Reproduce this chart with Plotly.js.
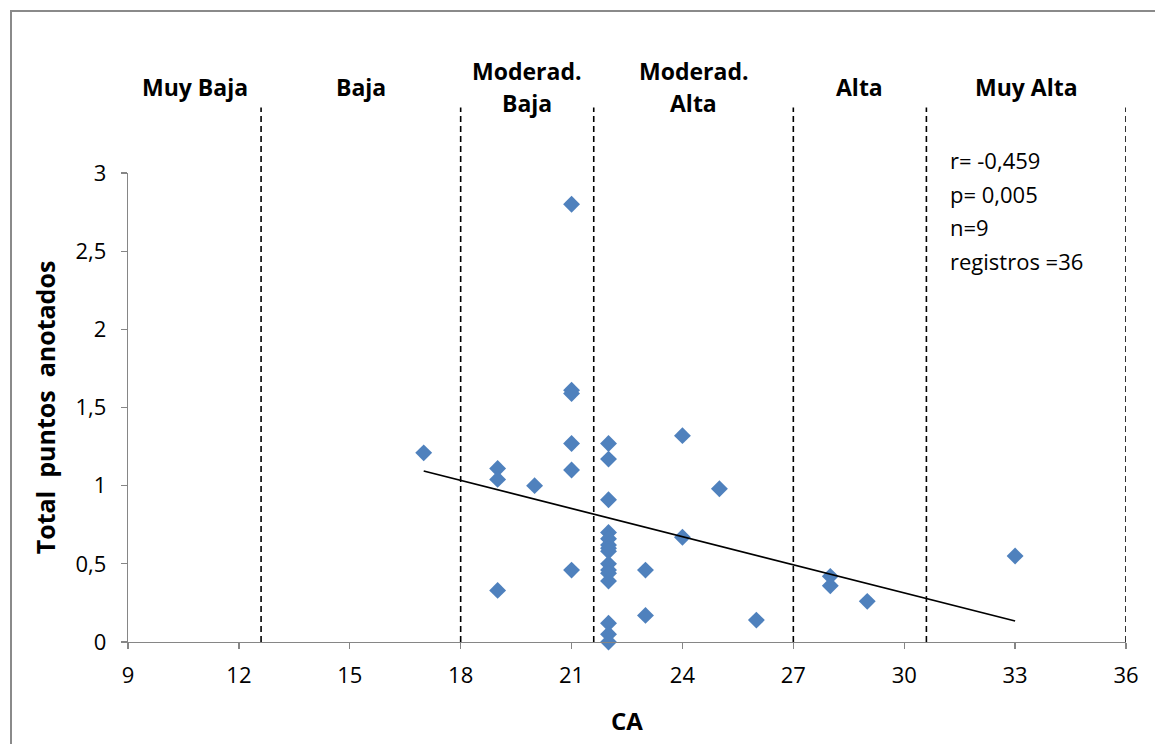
<!DOCTYPE html>
<html>
<head>
<meta charset="utf-8">
<script src="https://cdn.plot.ly/plotly-3.0.1.min.js"></script>
<style>
  html, body { margin: 0; padding: 0; background: #fff; overflow: hidden; }
  #chart { width: 1155px; height: 744px; }
  #frame { position: absolute; left: 10px; top: 10px; width: 1200px; height: 800px;
           border: 2px solid #8a8a8a; pointer-events: none; }
</style>
</head>
<body>
<div id="chart"></div>
<div id="frame"></div>
<script>
// ---- data ----
const caValues = [17, 19, 19, 19, 20,
  21, 21, 21, 21, 21, 21,
  22, 22, 22, 22, 22, 22, 22, 22, 22, 22, 22, 22, 22, 22, 22,
  23, 23, 24, 24, 25, 26, 28, 28, 29, 33];
const puntosValues = [1.21, 1.11, 1.04, 0.33, 1.00,
  2.80, 1.61, 1.59, 1.27, 1.10, 0.46,
  1.27, 1.17, 0.91, 0.70, 0.66, 0.62, 0.60, 0.58, 0.50, 0.46, 0.44, 0.39, 0.12, 0.05, 0.00,
  0.46, 0.17, 1.32, 0.67, 0.98, 0.14, 0.42, 0.36, 0.26, 0.55];

const zoneBounds = [12.6, 18, 21.6, 27, 30.6, 36];
const zoneLabels = ["Muy Baja", "Baja", "Moderad.<br>Baja", "Moderad.<br>Alta", "Alta", "Muy Alta"];
const zoneStarts = [9, 12.6, 18, 21.6, 27, 30.6];

const statsLines = ["r= -0,459", "p= 0,005", "n=9", "registros =36"];

const xTicks = [9, 12, 15, 18, 21, 24, 27, 30, 33, 36];
const yTicks = [0, 0.5, 1, 1.5, 2, 2.5, 3];

// ---- least-squares trend line from the data ----
const n = caValues.length;
const mx = caValues.reduce((a, b) => a + b, 0) / n;
const my = puntosValues.reduce((a, b) => a + b, 0) / n;
let sxy = 0, sxx = 0;
for (let i = 0; i < n; i++) {
  sxy += (caValues[i] - mx) * (puntosValues[i] - my);
  sxx += (caValues[i] - mx) * (caValues[i] - mx);
}
const slope = sxy / sxx;
const intercept = my - slope * mx;
const xMin = Math.min(...caValues), xMax = Math.max(...caValues);
const trendX = [xMin, xMax];
const trendY = trendX.map(x => intercept + slope * x);

const FONT = "'Open Sans', Lato, sans-serif";

const traces = [
  {
    x: caValues, y: puntosValues, type: "scatter", mode: "markers",
    marker: { symbol: "diamond", size: 13, color: "#4F81BD" },
    cliponaxis: false, hoverinfo: "x+y", showlegend: false
  },
  {
    x: trendX, y: trendY, type: "scatter", mode: "lines",
    line: { color: "#000", width: 1.7 }, hoverinfo: "skip", showlegend: false
  }
];

const shapes = zoneBounds.map(b => ({
  type: "line", xref: "x", yref: "paper", x0: b, x1: b, y0: 0, y1: 1.1395,
  line: { color: "#000", width: 1.6, dash: "6px,4px" }, layer: "above"
}));

const annotations = [];
zoneLabels.forEach((lab, i) => {
  const cx = (zoneStarts[i] + zoneBounds[i]) / 2;
  const parts = lab.split("<br>");
  const ys = parts.length === 1 ? [1.184] : [1.218, 1.150];
  parts.forEach((p, j) => {
    annotations.push({
      x: cx, xref: "x", y: ys[j], yref: "paper", text: "<b>" + p + "</b>",
      showarrow: false, xanchor: "center", yanchor: "middle",
      font: { family: FONT, size: 23, color: "#000" }
    });
  });
});
statsLines.forEach((s, j) => {
  annotations.push({
    x: 0.822, xref: "paper", y: 1.027 - j * 0.0713, yref: "paper", text: s,
    showarrow: false, xanchor: "left", yanchor: "middle",
    font: { family: FONT, size: 22, color: "#000" }
  });
});

const layout = {
  width: 1155, height: 744,
  margin: { l: 128, r: 29, t: 172.5, b: 102 },
  paper_bgcolor: "#fff", plot_bgcolor: "#fff",
  separators: ", ",
  showlegend: false,
  font: { family: FONT, size: 22, color: "#000" },
  xaxis: {
    range: [9, 36], tickvals: xTicks, ticktext: xTicks.map(String),
    showgrid: false, zeroline: false, showline: true, linecolor: "#868686", linewidth: 1.3,
    ticks: "outside", ticklen: 6, tickcolor: "#868686", tickwidth: 1.3,
    tickfont: { family: FONT, size: 22, color: "#000" },
    ticklabelstandoff: 7,
    title: { text: "<b>CA</b>", font: { family: FONT, size: 24, color: "#000" }, standoff: 25 }
  },
  yaxis: {
    range: [0, 3], tickvals: yTicks,
    showgrid: false, zeroline: false, showline: true, linecolor: "#868686", linewidth: 1.3,
    ticks: "outside", ticklen: 6, tickcolor: "#868686", tickwidth: 1.3,
    tickfont: { family: FONT, size: 22, color: "#000" },
    ticklabelstandoff: 10,
    title: { text: "<b>Total  puntos  anotados</b>", font: { family: FONT, size: 25, color: "#000" }, standoff: 12 }
  },
  shapes: shapes,
  annotations: annotations
};

Plotly.newPlot("chart", traces, layout, { displayModeBar: false, staticPlot: true });
</script>
</body>
</html>
